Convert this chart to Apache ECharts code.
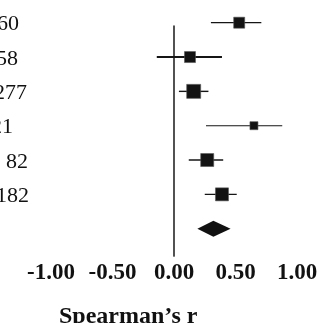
<!DOCTYPE html>
<html>
<head>
<meta charset="utf-8">
<script src="https://cdn.jsdelivr.net/npm/echarts@6/dist/echarts.min.js"></script>
<style>
html,body{margin:0;padding:0;background:#fff;}
#c{width:328px;height:323px;}
</style>
</head>
<body>
<div id="c"></div>
<script>
// ---- data ----
const studyLabels = ["160", "158", "277", "21", "82", "182"];
const pointEst = [0.53, 0.13, 0.16, 0.65, 0.27, 0.39];
const lowerCI  = [0.30, -0.14, 0.04, 0.26, 0.12, 0.25];
const upperCI  = [0.71, 0.39, 0.28, 0.88, 0.40, 0.51];
const pooledEst = 0.32;
const pooledLower = 0.19;
const pooledUpper = 0.46;
const xTicks = [-1.00, -0.50, 0.00, 0.50, 1.00];
const axisTitle = "Spearman\u2019s r";

// ---- styles (not data) ----
const markerSize = [11, 11, 14, 8, 13, 13];
const barWidth = [1.2, 2, 1.4, 1.1, 1.4, 1.4];
const labelRightPx = [19, 18, 27, 13, 28, 29];

const chart = echarts.init(document.getElementById('c'), null, {renderer: 'canvas'});

const rows = pointEst.map((p, i) => [p, i, lowerCI[i], upperCI[i]]);

const option = {
  animation: false,
  backgroundColor: '#fff',
  grid: {left: 51, right: 31, top: 26, bottom: 67, containLabel: false},
  xAxis: {
    type: 'value', min: xTicks[0], max: xTicks[xTicks.length - 1], interval: 0.5,
    axisLine: {show: false, onZero: false},
    axisTick: {show: false},
    splitLine: {show: false},
    axisLabel: {
      margin: 6,
      fontFamily: 'Liberation Serif', fontWeight: 'bold', fontSize: 23, color: '#111',
      formatter: v => v.toFixed(2)
    }
  },
  yAxis: {
    type: 'value', min: 0.096, max: 6.796, inverse: true,
    axisLine: {show: true, onZero: true, lineStyle: {color: '#333', width: 1.7}},
    axisTick: {show: false},
    axisLabel: {show: false},
    splitLine: {show: false}
  },
  series: [
    {
      type: 'custom',
      data: rows,
      renderItem: function (params, api) {
        const i = params.dataIndex;
        const y = api.value(1);
        const pLo = api.coord([api.value(2), y]);
        const pHi = api.coord([api.value(3), y]);
        const pc = api.coord([api.value(0), y]);
        const s = markerSize[i];
        return {
          type: 'group',
          children: [
            {type: 'line', shape: {x1: pLo[0], y1: pLo[1], x2: pHi[0], y2: pHi[1]},
             style: {stroke: '#151515', lineWidth: barWidth[i]}},
            {type: 'rect', shape: {x: pc[0] - s / 2, y: pc[1] - s / 2, width: s, height: s},
             style: {fill: '#131313', stroke: '#555', lineWidth: 0.6}}
          ]
        };
      }
    },
    {
      type: 'custom',
      data: [[pooledEst, 6, pooledLower, pooledUpper]],
      renderItem: function (params, api) {
        const y = api.value(1);
        const pLo = api.coord([api.value(2), y]);
        const pHi = api.coord([api.value(3), y]);
        const pc = api.coord([api.value(0), y]);
        const h = 8;
        return {
          type: 'polygon',
          shape: {points: [[pLo[0], pLo[1]], [pc[0], pc[1] - h], [pHi[0], pHi[1]], [pc[0], pc[1] + h]]},
          style: {fill: '#111'}
        };
      }
    }
  ]
};
chart.setOption(option);

// left labels (cut off on the left in the reference) and axis title
const gfx = studyLabels.map((t, i) => {
  const y = chart.convertToPixel({gridIndex: 0}, [0, i])[1];
  return {
    type: 'text', x: labelRightPx[i], y: y + 2,
    style: {text: t, align: 'right', verticalAlign: 'middle',
            font: '22px "Liberation Serif"', fill: '#111'}
  };
});
gfx.push({
  type: 'text', x: 59, y: 317,
  style: {text: axisTitle, align: 'left', verticalAlign: 'middle',
          font: 'bold 24px "Liberation Serif"', fill: '#111'}
});
chart.setOption({graphic: gfx});
</script>
</body>
</html>
